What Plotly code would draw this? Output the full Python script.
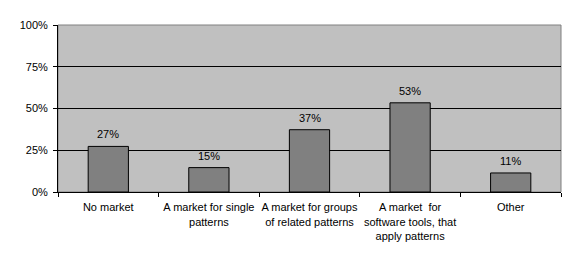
import plotly.graph_objects as go

categories = ["No market", "A market for single<br>patterns", "A market for groups<br>of related patterns",
              "A market  for<br>software tools, that<br>apply patterns", "Other"]
values = [27.3, 14.6, 37.3, 53.4, 11.4]
labels = ["27%", "15%", "37%", "53%", "11%"]
yticks = [0, 25, 50, 75, 100]
yticklabels = ["0%", "25%", "50%", "75%", "100%"]

font = "Arial, Liberation Sans, sans-serif"

fig = go.Figure()
fig.add_trace(go.Bar(
    x=categories, y=values,
    marker=dict(color="#808080", line=dict(color="black", width=1)),
    width=0.4,
))
annotations = [dict(x=c, y=v, text=t, showarrow=False, yanchor="bottom", yshift=4,
                    font=dict(family=font, size=11, color="black"))
               for c, v, t in zip(categories, values, labels)]
fig.update_layout(
    width=576, height=259,
    margin=dict(l=58, r=15, t=25, b=67, autoexpand=False),
    paper_bgcolor="white", plot_bgcolor="#C0C0C0",
    showlegend=False,
    font=dict(family=font, size=11, color="black"),
    annotations=annotations,
    shapes=[dict(type="rect", xref="paper", yref="paper", x0=0, x1=1, y0=0, y1=1,
                 line=dict(color="#808080", width=1), layer="below")],
)
fig.update_xaxes(
    showline=True, linecolor="black", linewidth=1, ticks="outside", ticklen=4,
    tickcolor="black", tickson="boundaries", showgrid=False, tickangle=0,
    automargin=False, ticklabelstandoff=5,
    tickfont=dict(family=font, size=11, color="black"),
)
fig.update_yaxes(
    range=[0, 100], tickvals=yticks, ticktext=yticklabels,
    showline=True, linecolor="black", linewidth=1, ticks="outside", ticklen=4,
    tickcolor="black", showgrid=True, gridcolor="black", gridwidth=1,
    zeroline=False, automargin=False, ticklabelstandoff=3,
    tickfont=dict(family=font, size=11, color="black"),
)
fig.write_html("out.html")
